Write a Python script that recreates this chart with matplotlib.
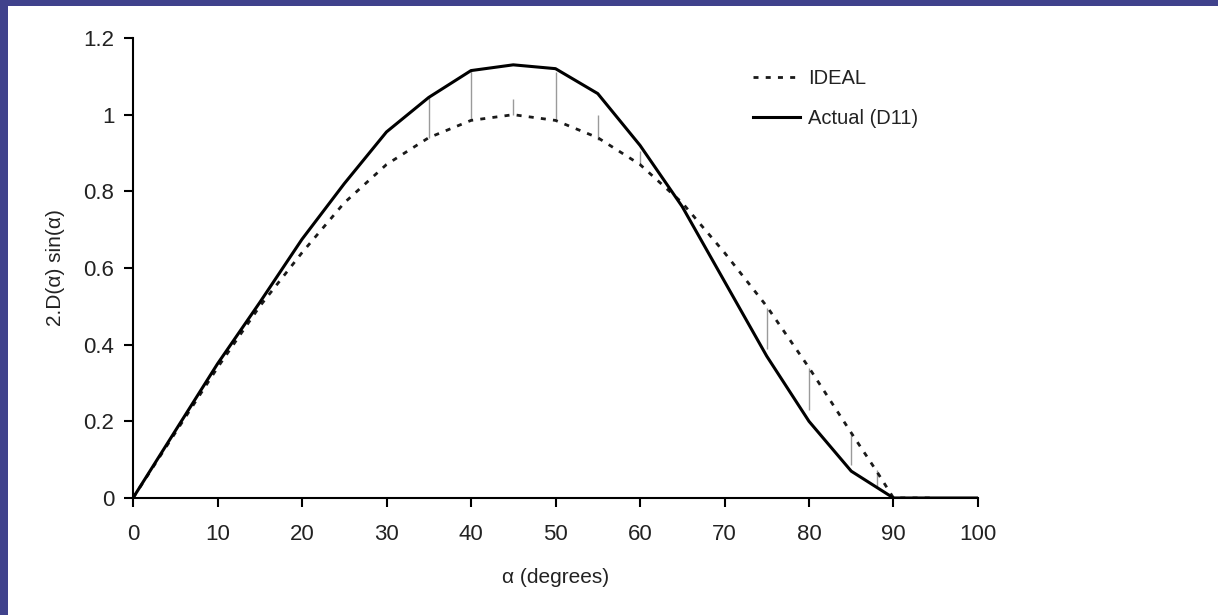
import matplotlib
matplotlib.use('Agg')
import matplotlib.pyplot as plt
from matplotlib.patches import Rectangle

# == data ==
alpha_actual = [0, 5, 10, 15, 20, 25, 30, 35, 40, 45, 50, 55, 60, 65, 70, 75, 80, 85, 90, 95, 100]
d_actual = [0, 0.175, 0.35, 0.51, 0.675, 0.82, 0.955, 1.045, 1.115, 1.13, 1.12, 1.055, 0.92,
            0.76, 0.565, 0.37, 0.2, 0.07, 0, 0, 0]

alpha_ideal = [0, 5, 10, 15, 20, 25, 30, 35, 40, 45, 50, 55, 60, 65, 70, 75, 80, 85, 88, 90, 95]
d_ideal = [0, 0.17, 0.34, 0.5, 0.64, 0.77, 0.87, 0.94, 0.985, 1.0, 0.985, 0.94, 0.87,
           0.77, 0.64, 0.5, 0.34, 0.17, 0.07, 0, 0]

# thin grey drop lines between the curves
alpha_bars = [35, 40, 45, 50, 55, 60, 75, 80, 85, 88]
bar_lo = [0.94, 0.985, 1.0, 0.985, 0.935, 0.87, 0.39, 0.23, 0.085, 0.026]
bar_hi = [1.045, 1.115, 1.04, 1.11, 1.0, 0.905, 0.495, 0.34, 0.17, 0.073]

xticks = [0, 10, 20, 30, 40, 50, 60, 70, 80, 90, 100]
yticks = [0, 0.2, 0.4, 0.6, 0.8, 1, 1.2]
ytick_labels = ['0', '0.2', '0.4', '0.6', '0.8', '1', '1.2']
# =================================

plt.rcParams['font.family'] = ['Liberation Sans', 'DejaVu Sans']

W, H = 1218, 615
fig = plt.figure(figsize=(W / 100, H / 100), dpi=100)
fig.patch.set_facecolor('#40428c')
fig.patches.append(Rectangle((8 / W, 0), 1, 1 - 6 / H, transform=fig.transFigure,
                             facecolor='white', edgecolor='none', zorder=-1))

ax = fig.add_axes([133 / W, 1 - 498 / H, (978 - 133) / W, (498 - 38) / H])
ax.set_facecolor('none')

ax.vlines(alpha_bars, bar_lo, bar_hi, colors='#9a9a9a', linewidth=1.0, zorder=2)
ax.plot(alpha_ideal, d_ideal, color='#1a1a1a', linewidth=2.0, dashes=(1.8, 2.6),
        label='IDEAL', zorder=3)
ax.plot(alpha_actual, d_actual, color='black', linewidth=2.2, label='Actual (D11)', zorder=4)

ax.set_xlim(0, 100)
ax.set_ylim(0, 1.2)
ax.set_xticks(xticks)
ax.set_yticks(yticks)
ax.set_yticklabels(ytick_labels)

for s in ['top', 'right']:
    ax.spines[s].set_visible(False)
for s in ['left', 'bottom']:
    ax.spines[s].set_linewidth(1.5)
ax.tick_params(direction='out', length=6.5, width=1.5, labelsize=16, labelcolor='#222222')
ax.tick_params(axis='x', pad=12)
ax.tick_params(axis='y', pad=7)

ax.set_xlabel('α (degrees)', fontsize=15, color='#222222', labelpad=17)
ax.set_ylabel('2.D(α) sin(α)', fontsize=15, color='#222222', labelpad=13)

ax.legend(loc='upper left', bbox_to_anchor=(753 / W, 1 - 69 / H), bbox_transform=fig.transFigure,
          frameon=False, fontsize=14.5, handlelength=2.35, handletextpad=0.4,
          labelspacing=1.05, borderpad=0, borderaxespad=0, labelcolor='#222222')

fig.savefig('out.png', dpi=100)
